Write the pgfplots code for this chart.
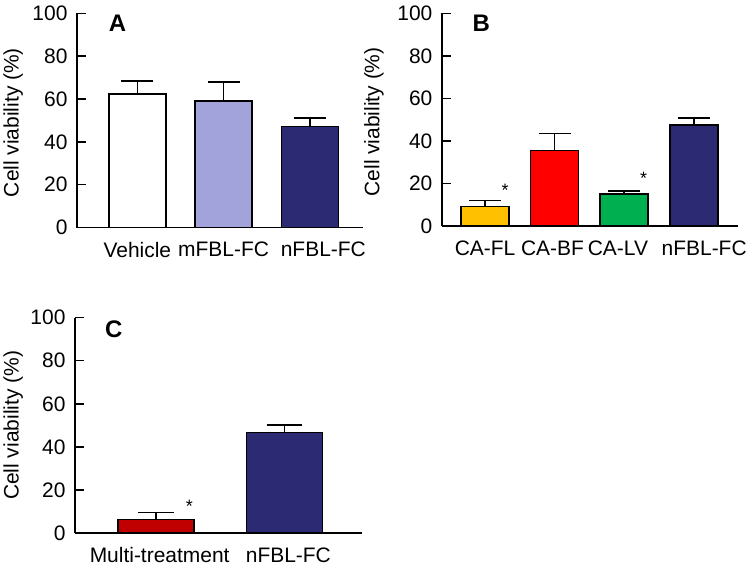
\documentclass[border=0pt]{standalone}
\usepackage{fontspec}
\setmainfont{Liberation Sans}
\usepackage{pgfplots}
\pgfplotsset{compat=1.18}

\definecolor{lav}{HTML}{A3A3DC}
\definecolor{navy}{HTML}{2B2A72}
\definecolor{gold}{HTML}{FFC000}
\definecolor{grn}{HTML}{00B050}
\definecolor{dred}{HTML}{C00000}

\pgfplotsset{
  panel/.style={
    scale only axis,
    anchor=south west,
    ymin=0, ymax=100,
    ytick={0,20,...,100},
    axis x line*=bottom, axis y line*=left,
    axis line style={line width=1.5pt, -},
    tick align=inside,
    major tick length=9pt,
    ytick style={line width=1.5pt, black},
    xtick style={draw=none},
    tick label style={font=\fontsize{21}{24}\selectfont},
    yticklabel style={xshift=-6pt},
    xticklabel style={yshift=-2pt},
    /pgf/number format/assume math mode=true,
    ylabel={Cell viability (\%)},
    ylabel style={font=\fontsize{21}{24}\selectfont, anchor=center},
    ybar, bar shift=0pt,
    clip=false,
  },
  mybar/.style={draw=black, line width=1.6pt, fill=#1,
    error bars/y dir=plus, error bars/y explicit,
    error bars/error bar style={line width=1.6pt, black},
    error bars/error mark options={line width=1.6pt, black, mark size=16pt, rotate=90}},
  widecap/.style={error bars/error mark options={line width=1.6pt, black, mark size=18pt, rotate=90}},
}
\tikzset{
  letter/.style={font=\bfseries\fontsize{24}{28}\selectfont},
  star/.style={font=\fontsize{18}{18}\selectfont},
}

\begin{document}
\begin{tikzpicture}
\path (0,0) rectangle (750pt,570pt);

% panel A
\begin{axis}[panel, at={(76pt,342pt)}, width=287pt, height=214.7pt,
  xmin=-0.70, xmax=2.62, bar width=0.66,
  xtick={0,1,2.156}, xticklabels={Vehicle,mFBL-FC,nFBL-FC},
  ylabel style={at={(axis description cs:-0.223,0.49)}}]
\addplot[mybar=white] coordinates {(0,62.2) +- (0,6.2)};
\addplot[mybar=lav] coordinates {(1,59.1) +- (0,8.9)};
\addplot[mybar=navy] coordinates {(2,47.1) +- (0,3.9)};
\node[letter] at (rel axis cs:0.142,0.955) {A};
\end{axis}

% panel B
\begin{axis}[panel, at={(441.7pt,343.3pt)}, width=296.3pt, height=213.4pt,
  xmin=-0.62, xmax=3.63, bar width=0.69,
  xtick={0,0.97,1.91,3.15}, xticklabels={CA-FL,CA-BF,CA-LV,nFBL-FC},
  ylabel style={at={(axis description cs:-0.23,0.49)}}]
\addplot[mybar=gold] coordinates {(0,9.2) +- (0,2.8)};
\addplot[mybar=red] coordinates {(1,35.5) +- (0,8.1)};
\addplot[mybar=grn] coordinates {(2,15.2) +- (0,1.2)};
\addplot[mybar=navy] coordinates {(3,47.5) +- (0,3.3)};
\node[letter] at (rel axis cs:0.133,0.955) {B};
\node[star] at (axis cs:0.29,17) {*};
\node[star] at (axis cs:2.28,22.3) {*};
\end{axis}

% panel C
\begin{axis}[panel, at={(74pt,35.7pt)}, width=288pt, height=216pt,
  xmin=-0.628, xmax=1.605, bar width=0.59,
  xtick={0.03,1.03}, xticklabels={Multi-treatment,nFBL-FC},
  ylabel style={at={(axis description cs:-0.215,0.5)}}]
\addplot[mybar=dred, widecap] coordinates {(0,6.3) +- (0,3.2)};
\addplot[mybar=navy, widecap] coordinates {(1,46.7) +- (0,3.4)};
\node[letter] at (rel axis cs:0.135,0.945) {C};
\node[star] at (axis cs:0.26,12.6) {*};
\end{axis}
\end{tikzpicture}
\end{document}
